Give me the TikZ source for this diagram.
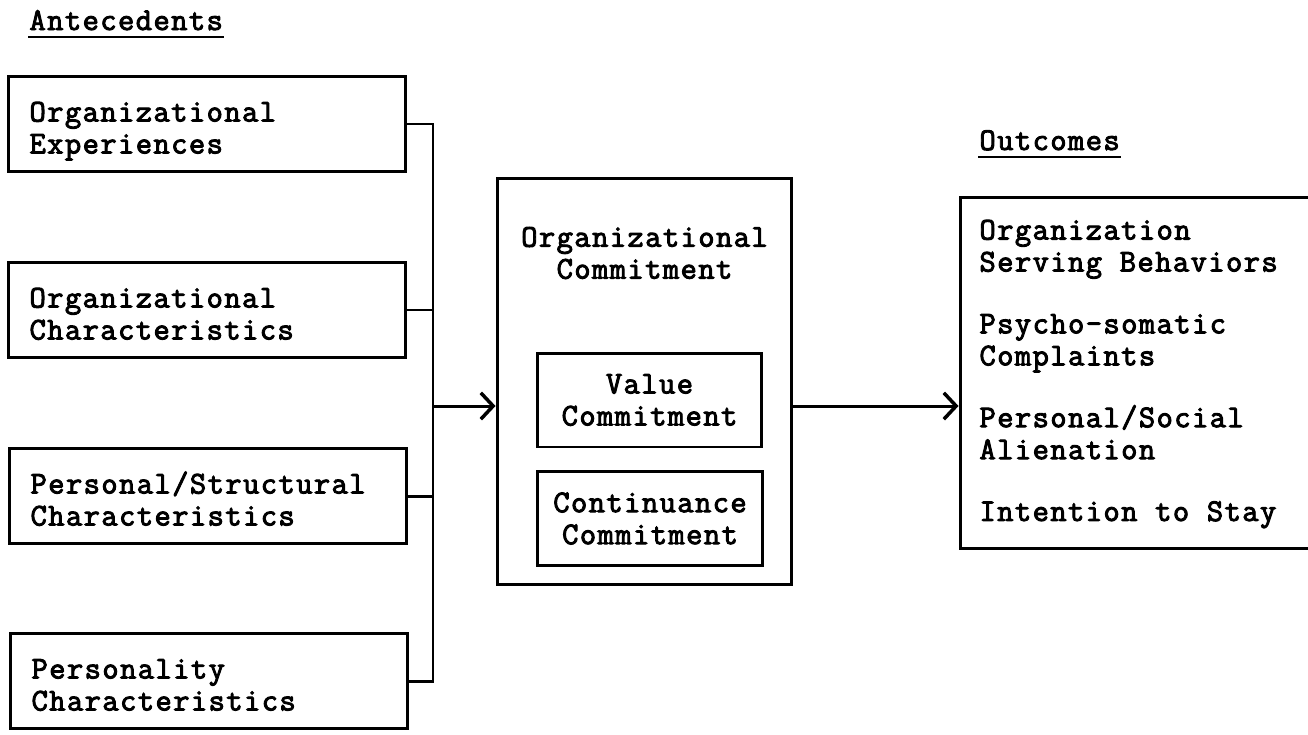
\documentclass[tikz,border=0pt]{standalone}
\usepackage{fontspec}
\setmonofont{Latin Modern Mono}[LetterSpace=4.5, FakeBold=3]
\usetikzlibrary{arrows.meta}

\begin{document}
\begin{tikzpicture}[x=0.02cm, y=-0.02cm, line width=1.7pt,
		font=\ttfamily\fontsize{18}{18.2}\selectfont,
		antbox/.style={draw, rectangle, minimum width=7.96cm, minimum height=1.9cm, align=left, text width=7.1cm,
			inner ysep=0pt, text height=0.85cm, text depth=0.95cm},
		subbox/.style={draw, rectangle, minimum width=4.5cm, minimum height=1.88cm, align=center},
		head/.style={inner xsep=0pt},
		uline/.style={line width=1.3pt},
		arr/.style={-{Straight Barb[length=7pt,width=15pt,line width=2pt]}}]
				\useasboundingbox (0,0) rectangle (1308,734);
				% headings
				\node[head, anchor=base west] (anthead)at(28, 30) {Antecedents};
				\draw[uline] ([yshift=-4pt]anthead.base west) -- ([yshift=-4pt]anthead.base east);
				\node[head, anchor=base west] (outhead)at(978, 150) {Outcomes};
				\draw[uline] ([yshift=-4pt]outhead.base west) -- ([yshift=-4pt]outhead.base east);
				% antecedents
				\node[antbox] (ant1)at(207, 124) {Organizational\\Experiences};
				\node[antbox] (ant2)at(207, 310) {Organizational\\Characteristics};
				\node[antbox] (ant3)at(208, 496) {Personal/Structural\\Characteristics};
				\node[antbox] (ant4)at(209, 681) {Personality\\Characteristics};
				% commitment
				\node[draw, rectangle, minimum width=5.9cm, minimum height=8.14cm] (commit)at(644.5, 381.5) {};
				\node[align=center] (committitle)at(644.5, 253) {Organizational\\Commitment};
				\node[subbox] (value)at(649.5, 400) {Value\\Commitment};
				\node[subbox] (cont)at(650, 518.5) {Continuance\\Commitment};
				% outcomes
				\node[draw, rectangle, minimum width=7.2cm, minimum height=7.04cm] (outc)at(1140, 373) {};
				\node[anchor=west, align=left, inner xsep=0pt] (outtext)at(978, 374) {Organization\\Serving Behaviors\\[17pt]Psycho-somatic\\Complaints\\[17pt]Personal/Social\\Alienation\\[17pt]Intention to Stay};
				% connectors
				\coordinate (bus)at(433, 406);
				\draw (ant1.east) -- (ant1.east -| bus) -- (ant4.east -| bus) -- (ant4.east);
				\draw (ant2.east) -- (ant2.east -| bus);
				\draw (ant3.east) -- (ant3.east -| bus);
				\draw[arr] (bus) -- (bus -| commit.west);
				\draw[arr] (bus -| commit.east) -- (bus -| outc.west);
			\end{tikzpicture}
\end{document}
